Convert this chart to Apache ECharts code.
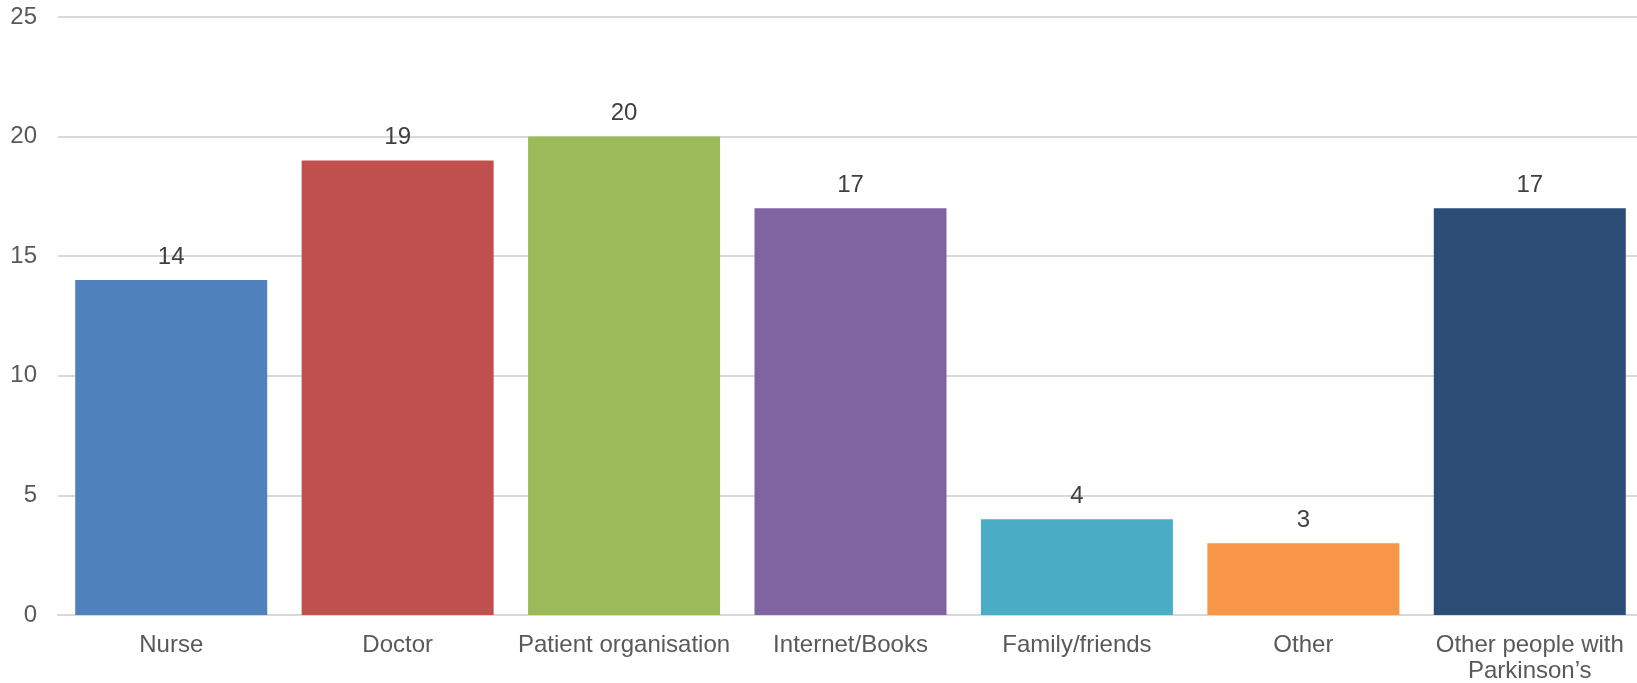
<!DOCTYPE html>
<html>
<head>
<meta charset="utf-8">
<script src="https://cdn.jsdelivr.net/npm/echarts@6/dist/echarts.min.js"></script>
<style>
  html, body { margin: 0; padding: 0; background: #ffffff; }
  #main { width: 1637px; height: 683px; }
</style>
</head>
<body>
<div id="main"></div>
<script>
// data
const categories = ['Nurse', 'Doctor', 'Patient organisation', 'Internet/Books', 'Family/friends', 'Other', 'Other people with\nParkinson\u2019s'];
const counts = [14, 19, 20, 17, 4, 3, 17];
const yTicks = [0, 5, 10, 15, 20, 25];

const barColors = ['#4F81BD', '#C0504D', '#9BBB59', '#8064A2', '#4BACC6', '#F79646', '#2C4D75'];

const chart = echarts.init(document.getElementById('main'), null, { renderer: 'canvas' });

const option = {
  backgroundColor: '#ffffff',
  animation: false,
  textStyle: { fontFamily: 'Liberation Sans, Arial, sans-serif' },
  grid: {
    left: 58,
    top: 17,
    width: 1585,
    height: 598,
    containLabel: false,
    outerBoundsMode: 'none'
  },
  xAxis: {
    type: 'category',
    data: categories,
    axisTick: { show: false },
    axisLine: { show: true, lineStyle: { color: '#d9d9d9', width: 2 } },
    axisLabel: {
      color: '#595959',
      fontSize: 24,
      lineHeight: 26,
      margin: 17,
      interval: 0
    }
  },
  yAxis: {
    type: 'value',
    min: yTicks[0],
    max: yTicks[yTicks.length - 1],
    interval: 5,
    axisLine: { show: false },
    axisTick: { show: false },
    splitLine: { lineStyle: { color: '#d9d9d9', width: 2 } },
    axisLabel: {
      color: '#595959',
      fontSize: 24,
      margin: 21
    }
  },
  series: [{
    type: 'bar',
    barWidth: 192,
    data: counts.map((v, i) => ({ value: v, itemStyle: { color: barColors[i] } })),
    label: {
      show: true,
      position: 'top',
      distance: 11,
      color: '#404040',
      fontSize: 24
    }
  }]
};

chart.setOption(option);
</script>
</body>
</html>
